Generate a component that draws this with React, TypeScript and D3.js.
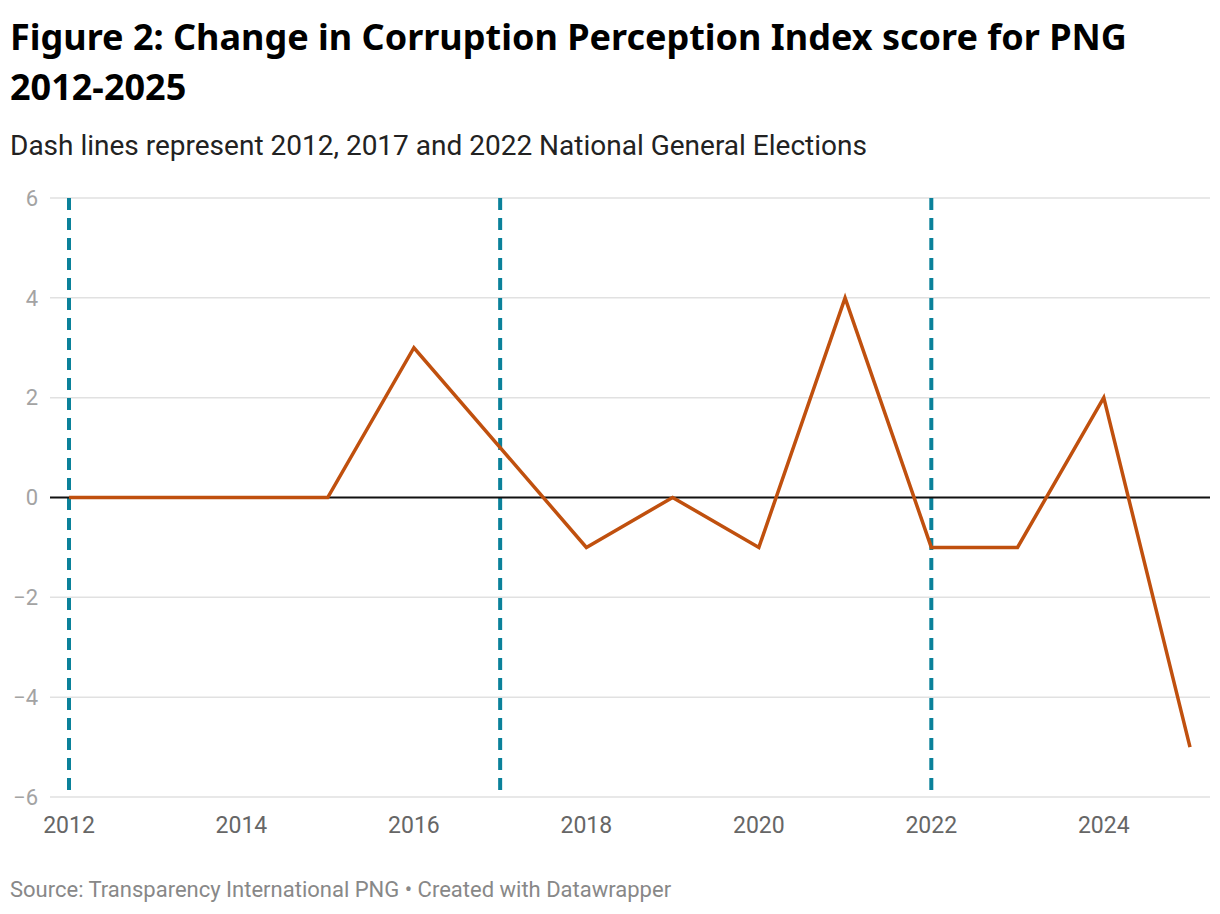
import React, { useRef, useEffect } from 'react';
import * as d3 from 'd3';

const years = [2012, 2013, 2014, 2015, 2016, 2017, 2018, 2019, 2020, 2021, 2022, 2023, 2024, 2025];
const changes = [0, 0, 0, 0, 3, 1, -1, 0, -1, 4, -1, -1, 2, -5];
const electionYears = [2012, 2017, 2022];
const yTicks = [6, 4, 2, 0, -2, -4, -6];
const xTicks = [2012, 2014, 2016, 2018, 2020, 2022, 2024];

const W = 1220;
const H = 914;

const App: React.FC = () => {
  const svgRef = useRef<SVGSVGElement>(null);

  useEffect(() => {
    document.body.style.margin = '0';
    if (!svgRef.current) return;
    const svg = d3.select(svgRef.current);
    svg.selectAll('*').remove();

    const x = d3.scaleLinear().domain([2012, 2025]).range([69, 1190]);
    const y = d3.scaleLinear().domain([-6, 6]).range([797, 198]);
    const gridLeft = 50;
    const gridRight = 1210;

    // Title + subtitle
    svg.append('text')
      .attr('x', 10).attr('y', 50)
      .attr('font-family', 'Noto Sans').attr('font-weight', 700).attr('font-size', 36)
      .attr('fill', '#000')
      .text('Figure 2: Change in Corruption Perception Index score for PNG');
    svg.append('text')
      .attr('x', 10).attr('y', 100)
      .attr('font-family', 'Noto Sans').attr('font-weight', 700).attr('font-size', 36)
      .attr('fill', '#000')
      .text('2012-2025');
    svg.append('text')
      .attr('x', 10).attr('y', 155)
      .attr('font-family', 'Roboto').attr('font-size', 28)
      .attr('fill', '#222')
      .text('Dash lines represent 2012, 2017 and 2022 National General Elections');

    // Grid
    svg.append('g').selectAll('line')
      .data(yTicks.filter(d => d !== 0))
      .enter().append('line')
      .attr('x1', gridLeft).attr('x2', gridRight)
      .attr('y1', d => y(d)).attr('y2', d => y(d))
      .attr('stroke', '#e1e1e1').attr('stroke-width', 1.5);

    svg.append('g').selectAll('text')
      .data(yTicks)
      .enter().append('text')
      .attr('x', 38).attr('y', d => y(d))
      .attr('dy', '0.35em')
      .attr('text-anchor', 'end')
      .attr('font-family', 'Roboto').attr('font-size', 22)
      .attr('fill', '#a3a3a3')
      .text(d => (d < 0 ? '\u2212' + Math.abs(d) : String(d)));

    svg.append('g').selectAll('text')
      .data(xTicks)
      .enter().append('text')
      .attr('x', d => x(d)).attr('y', 833)
      .attr('text-anchor', 'middle')
      .attr('font-family', 'Roboto').attr('font-size', 23)
      .attr('fill', '#666')
      .text(d => String(d));

    // Election dashes
    svg.append('g').selectAll('line')
      .data(electionYears)
      .enter().append('line')
      .attr('x1', d => x(d)).attr('x2', d => x(d))
      .attr('y1', y(6)).attr('y2', y(-6))
      .attr('stroke', '#0a819a').attr('stroke-width', 4)
      .attr('stroke-dasharray', '12,8');

    // Zero line
    svg.append('line')
      .attr('x1', gridLeft).attr('x2', gridRight)
      .attr('y1', y(0)).attr('y2', y(0))
      .attr('stroke', '#111').attr('stroke-width', 2);

    // Series
    const line = d3.line<number>()
      .x((_, i) => x(years[i]))
      .y(d => y(d));
    svg.append('path')
      .datum(changes)
      .attr('d', line)
      .attr('fill', 'none')
      .attr('stroke', '#c0500e')
      .attr('stroke-width', 3.5)
      .attr('stroke-linejoin', 'miter');

    svg.append('text')
      .attr('x', 10).attr('y', 897)
      .attr('font-family', 'Roboto').attr('font-size', 22)
      .attr('fill', '#888')
      .text('Source: Transparency International PNG \u2022 Created with Datawrapper');
  }, []);

  return <svg ref={svgRef} width={W} height={H} style={{ display: 'block', background: '#fff' }} />;
};

export default App;
